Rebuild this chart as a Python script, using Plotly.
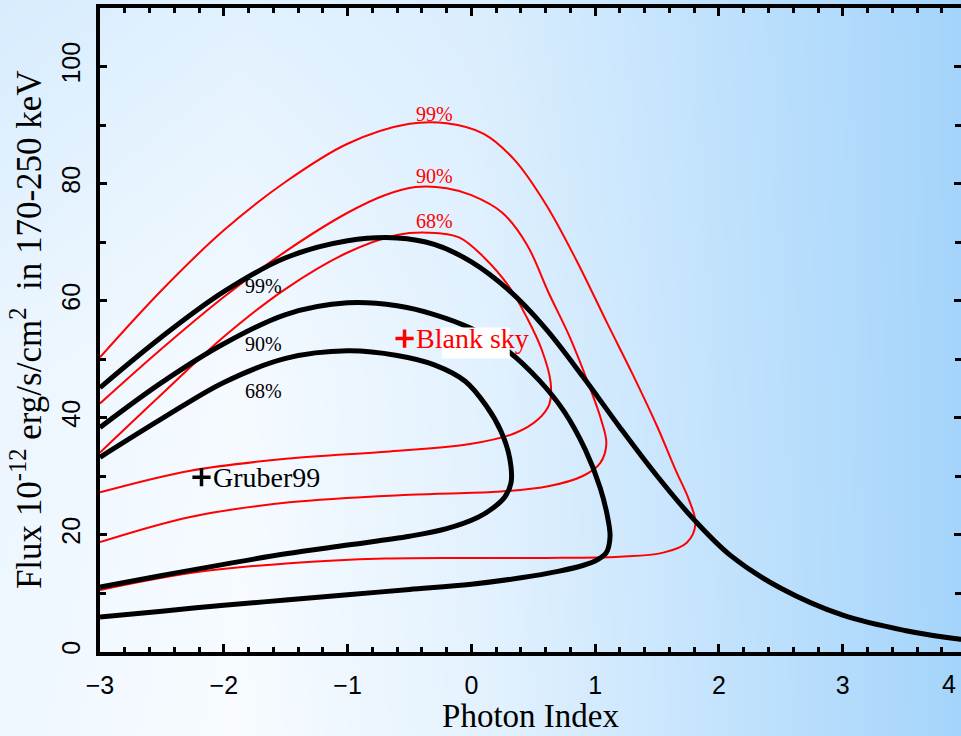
import plotly.graph_objects as go

# ---------------- data ----------------
# black contours (thick)
b99_x = [-3.0, -2.5, -2.0, -1.5, -1.0, -0.6, -0.3, 0.0, 0.3, 0.6, 0.9, 1.2, 1.5, 1.8, 2.1, 2.5, 3.0, 3.5, 3.95, 4.2]
b99_y = [45.1, 53.8, 61.5, 67.3, 70.2, 70.7, 69.6, 66.6, 61.8, 55.2, 47.0, 38.3, 30.0, 22.5, 16.3, 10.8, 6.2, 3.6, 2.1, 1.6]

b90_x = [-3.0, -2.5, -2.0, -1.5, -1.0, -0.6, -0.3, 0.0, 0.3, 0.55, 0.75, 0.92, 1.04, 1.1, 1.12, 1.09, 1.02, 0.9, 0.7, 0.4, 0.0, -0.5, -1.0, -1.5, -2.0, -2.5, -3.0]
b90_y = [38.3, 46.0, 52.6, 57.6, 59.6, 59.1, 57.6, 55.2, 51.3, 46.3, 41.0, 34.5, 28.0, 23.0, 19.6, 16.9, 15.7, 14.7, 13.7, 12.6, 11.5, 10.6, 9.7, 8.8, 7.9, 6.9, 5.9]

b68_x = [-3.0, -2.5, -2.0, -1.5, -1.0, -0.6, -0.3, -0.05, 0.12, 0.24, 0.31, 0.32, 0.27, 0.18, 0.05, -0.2, -0.5, -1.0, -1.5, -2.0, -2.5, -3.0]
b68_y = [33.2, 39.8, 46.0, 50.1, 51.4, 50.6, 49.0, 46.2, 42.0, 37.6, 33.0, 28.8, 26.4, 24.6, 22.9, 21.0, 19.7, 18.2, 16.7, 14.9, 13.0, 11.0]

# red contours (thin)
r99_x = [-3.0, -2.5, -2.0, -1.5, -1.0, -0.5, -0.2, 0.1, 0.35, 0.6, 0.85, 1.1, 1.3, 1.5, 1.65, 1.76, 1.81, 1.74, 1.55, 1.2, 0.6, 0.0, -0.7, -1.47, -2.27, -3.0]
r99_y = [50.3, 61.8, 72.0, 80.3, 86.8, 90.2, 90.3, 88.5, 84.0, 76.5, 66.8, 56.0, 47.5, 38.5, 31.0, 25.8, 21.8, 18.6, 16.9, 16.2, 16.0, 16.0, 15.9, 15.1, 13.4, 10.5]

r90_x = [-3.0, -2.5, -2.0, -1.5, -1.0, -0.7, -0.45, -0.2, 0.0, 0.25, 0.45, 0.62, 0.8, 0.95, 1.05, 1.09, 1.04, 0.9, 0.61, 0.2, -0.5, -1.47, -2.27, -3.0]
r90_y = [42.4, 51.8, 60.6, 68.4, 75.0, 78.0, 79.4, 79.2, 78.0, 75.0, 69.5, 61.5, 53.5, 45.5, 39.5, 35.5, 32.2, 30.0, 28.2, 27.3, 26.8, 25.5, 23.0, 18.7]

r68_x = [-3.0, -2.5, -2.0, -1.5, -1.0, -0.6, -0.35, -0.1, 0.1, 0.3, 0.45, 0.57, 0.64, 0.63, 0.54, 0.35, 0.0, -0.66, -1.47, -2.27, -3.0]
r68_y = [34.0, 44.0, 53.8, 62.0, 68.2, 71.2, 71.6, 70.8, 67.4, 62.5, 57.0, 51.5, 46.0, 42.3, 39.7, 37.3, 35.5, 34.2, 33.0, 30.9, 27.2]

# contour labels
levels = ["99%", "90%", "68%"]
black_lab_x = [-1.68, -1.68, -1.68]
black_lab_y = [62.4, 52.5, 44.6]
red_lab_x = [-0.30, -0.30, -0.30]
red_lab_y = [91.9, 81.3, 73.6]

# reference points
gruber_x, gruber_y = [-2.18], [29.8]
blank_x, blank_y = [-0.54], [53.5]

x_ticks = [-3, -2, -1, 0, 1, 2, 3]
x_extra_tick = "4"

# background gradient (blueness, rows bottom->top, columns left->right)
bg_cols = [0.0, 0.25, 0.5, 0.75, 1.0]
bg_rows = [0.0, 0.5, 1.0]
bg_z = [
    [0.12, 0.02, 0.25, 0.63, 1.0],
    [0.16, 0.05, 0.27, 0.65, 1.0],
    [0.40, 0.28, 0.36, 0.68, 1.0],
]

# ---------------- figure ----------------
W, H = 961, 736
left_px, right_px, top_px, bottom_px = 100, 961, 8, 651.5

TICKFONT = dict(family="Liberation Sans, Arial, sans-serif", size=25, color="black")
SERIF = "Liberation Serif, Times New Roman, serif"

fig = go.Figure()

fig.add_trace(go.Heatmap(
    x=bg_cols, y=bg_rows, z=bg_z, zsmooth="best", zmin=0, zmax=1,
    colorscale=[[0, "#f9fcff"], [1, "#a4d4fb"]], showscale=False,
    hoverinfo="skip", xaxis="x", yaxis="y"))

def curve(xs, ys, color, width):
    fig.add_trace(go.Scatter(x=xs, y=ys, mode="lines",
                             line=dict(color=color, width=width, shape="spline", smoothing=1.0),
                             xaxis="x2", yaxis="y2", showlegend=False, hoverinfo="skip"))

curve(r99_x, r99_y, "#ff0000", 2)
curve(r90_x, r90_y, "#ff0000", 2)
curve(r68_x, r68_y, "#ff0000", 2)
curve(b99_x, b99_y, "black", 5)
curve(b90_x, b90_y, "black", 5)
curve(b68_x, b68_y, "black", 5)

fig.add_trace(go.Scatter(x=gruber_x, y=gruber_y, mode="markers",
                         marker=dict(symbol="cross-thin", size=13, line=dict(color="black", width=3.5)),
                         xaxis="x2", yaxis="y2", showlegend=False, hoverinfo="skip"))
fig.add_trace(go.Scatter(x=blank_x, y=blank_y, mode="markers",
                         marker=dict(symbol="cross-thin", size=13, line=dict(color="#ff0000", width=3.5)),
                         xaxis="x2", yaxis="y2", showlegend=False, hoverinfo="skip"))

annotations = []
for t, x, y in zip(levels, black_lab_x, black_lab_y):
    annotations.append(dict(text=t, x=x, y=y, xref="x2", yref="y2", showarrow=False,
                            font=dict(family=SERIF, size=20, color="black")))
for t, x, y in zip(levels, red_lab_x, red_lab_y):
    annotations.append(dict(text=t, x=x, y=y, xref="x2", yref="y2", showarrow=False,
                            font=dict(family=SERIF, size=20, color="#ff0000")))
annotations.append(dict(text="Gruber99", x=gruber_x[0], y=gruber_y[0], xref="x2", yref="y2",
                        xanchor="left", xshift=9, showarrow=False,
                        font=dict(family=SERIF, size=28, color="black")))
annotations.append(dict(text="Blank sky", x=blank_x[0], y=blank_y[0], xref="x2", yref="y2",
                        xanchor="left", xshift=9, showarrow=False,
                        font=dict(family=SERIF, size=28, color="#ff0000")))
annotations.append(dict(text=x_extra_tick, x=1, y=0, xref="paper", yref="y2",
                        xanchor="right", yanchor="top", xshift=-3, yshift=-16, showarrow=False,
                        font=TICKFONT))

shapes = [dict(type="rect", xref="x2", yref="y2", x0=-0.24, x1=0.31, y0=50.1, y1=55.4,
               fillcolor="white", line=dict(width=0), layer="above")]

axis_common = dict(showline=True, linewidth=4, linecolor="black", mirror="allticks",
                   ticks="inside", tickcolor="black", showgrid=False, zeroline=False,
                   tickfont=TICKFONT, automargin=False)

fig.update_layout(
    width=W, height=H,
    margin=dict(l=0, r=0, t=0, b=0, pad=0, autoexpand=False),
    paper_bgcolor="#f4f9fe", plot_bgcolor="rgba(0,0,0,0)",
    showlegend=False,
    xaxis=dict(domain=[0, 1], range=[0, 1], visible=False, fixedrange=True),
    yaxis=dict(domain=[0, 1], range=[0, 1], visible=False, fixedrange=True),
    xaxis2=dict(domain=[left_px / W, right_px / W], anchor="y2", range=[-3, 3.955],
                tickvals=x_ticks, ticklen=8, tickwidth=3, ticklabelstandoff=8,
                minor=dict(dtick=0.2, tick0=0, ticks="inside", ticklen=5, tickwidth=3, tickcolor="black"),
                title=dict(text="Photon Index", font=dict(family=SERIF, size=33, color="black"), standoff=7),
                **axis_common),
    yaxis2=dict(domain=[(H - bottom_px) / H, (H - top_px) / H], anchor="x2", range=[0, 110],
                tick0=0, dtick=20, ticklen=7, tickwidth=3, tickangle=-90, ticklabelstandoff=6,
                minor=dict(dtick=10, tick0=0, ticks="inside", ticklen=6, tickwidth=3, tickcolor="black"),
                title=dict(text="Flux 10<sup>-12</sup> erg/s/cm<sup>2</sup>\u00a0 in 170-250 keV",
                           font=dict(family=SERIF, size=35, color="black"), standoff=6),
                **axis_common),
    annotations=annotations,
    shapes=shapes,
)

fig.write_html("out.html")
